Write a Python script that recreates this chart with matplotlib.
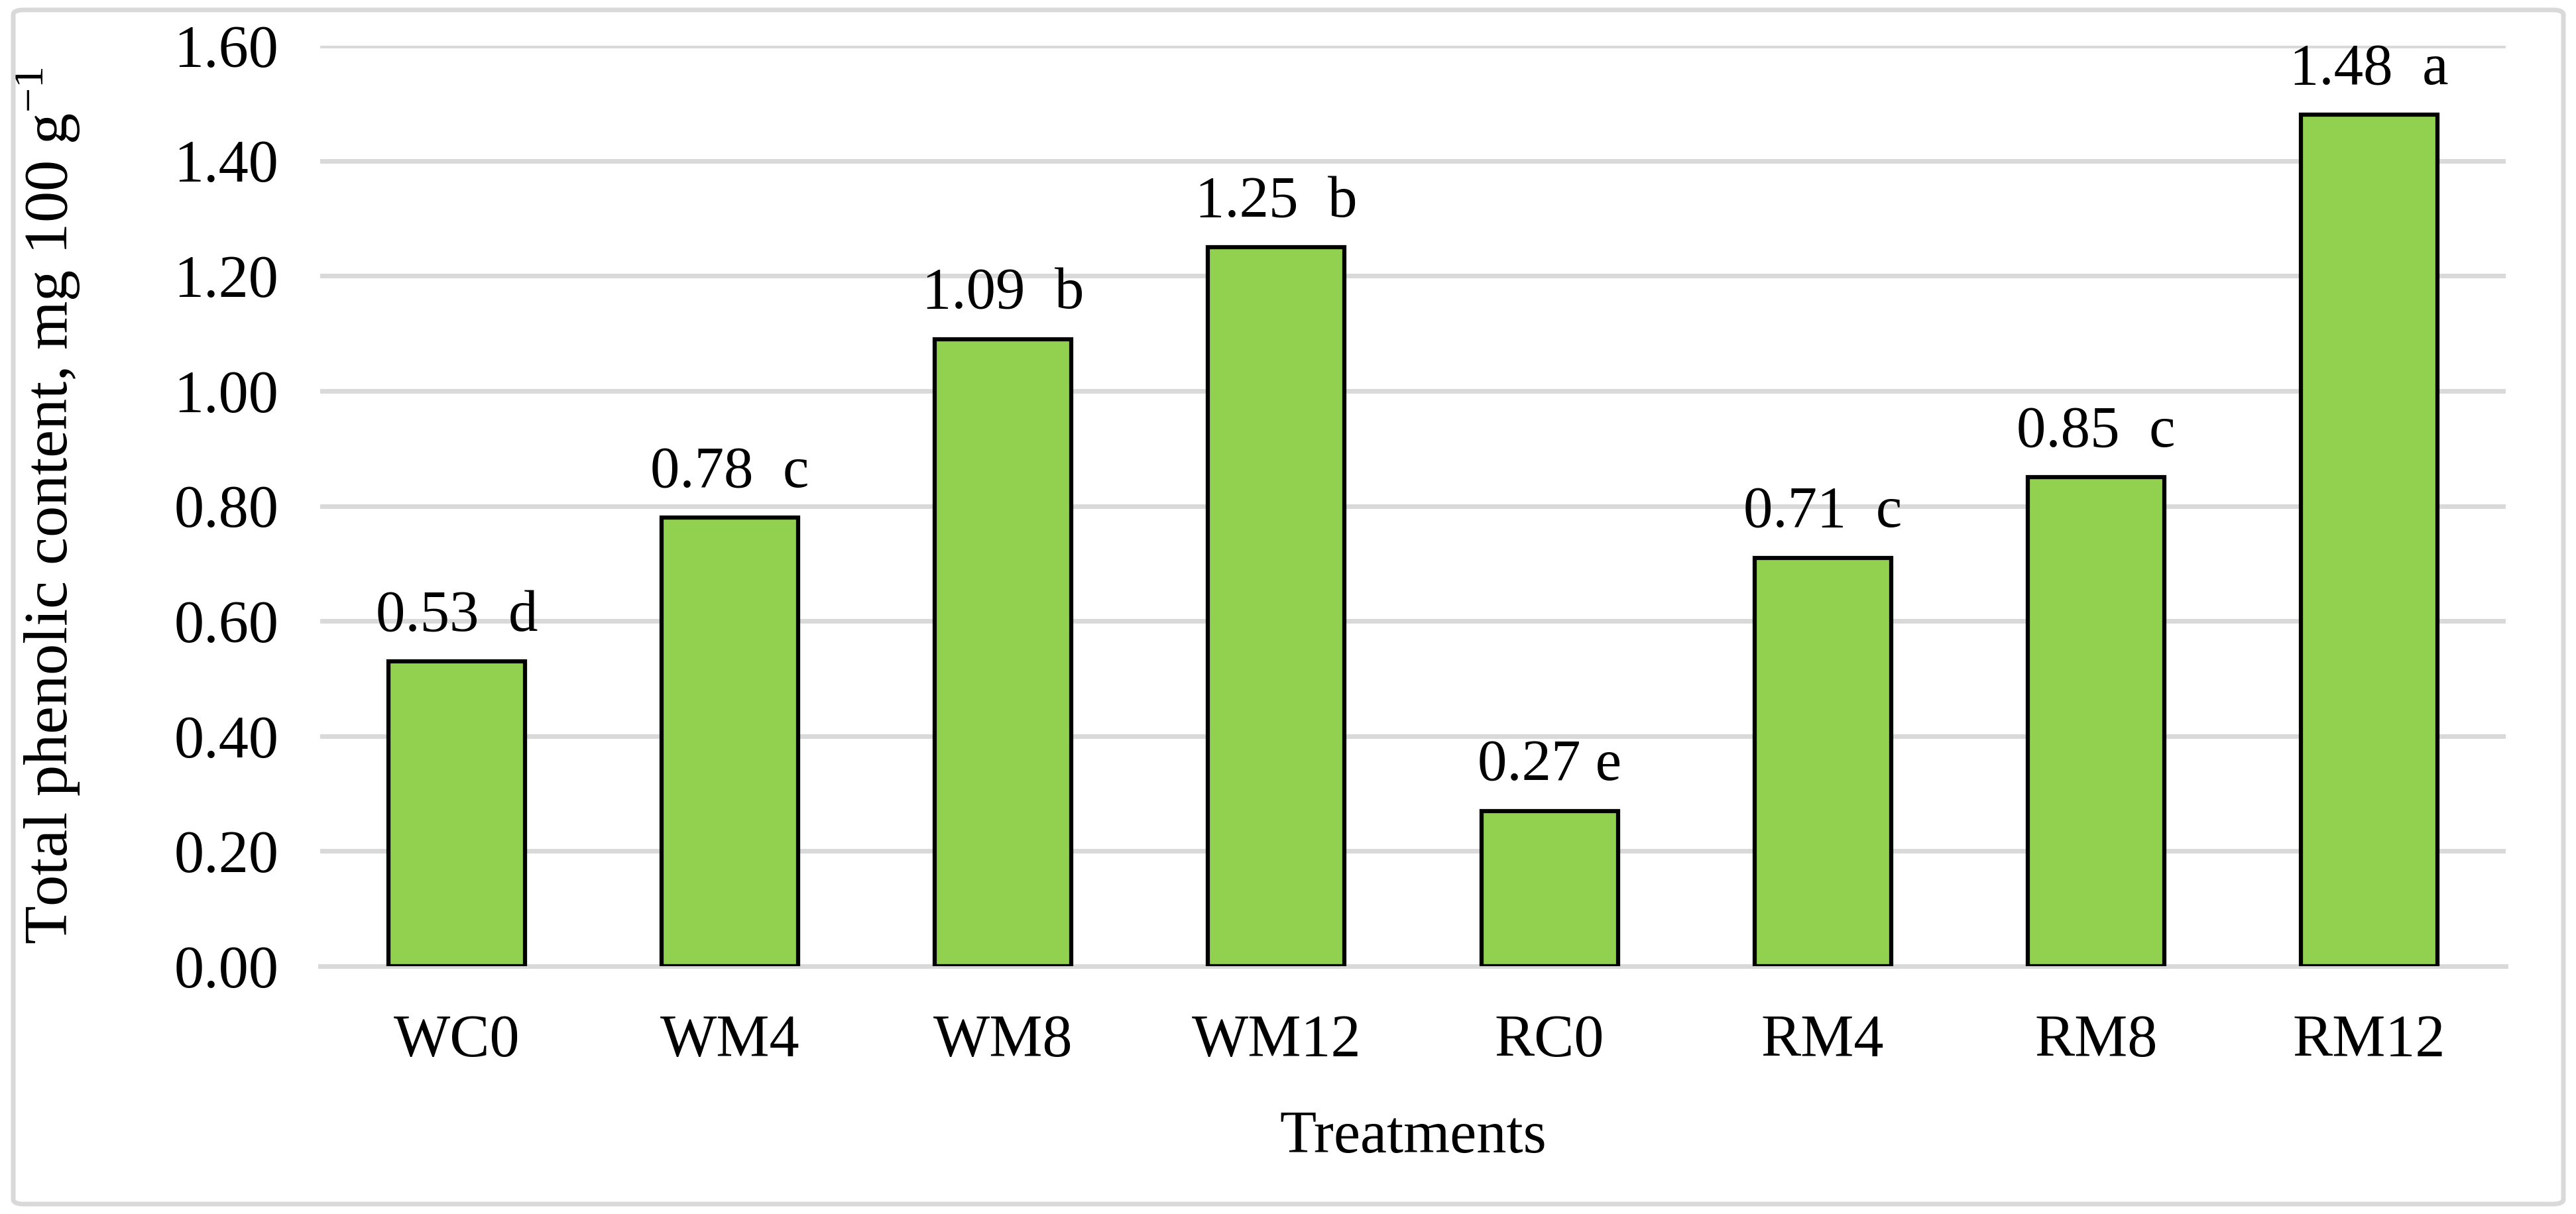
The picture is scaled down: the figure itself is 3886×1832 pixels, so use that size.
import numpy as np
import matplotlib
matplotlib.use('Agg')
import matplotlib.pyplot as plt
from matplotlib.patches import FancyBboxPatch

plt.rcParams['font.family'] = ['Liberation Serif', 'DejaVu Serif']
plt.rcParams['mathtext.fontset'] = 'custom'
plt.rcParams['mathtext.rm'] = 'Liberation Serif'

treatments = ['WC0', 'WM4', 'WM8', 'WM12', 'RC0', 'RM4', 'RM8', 'RM12']
phenolic = [0.53, 0.78, 1.09, 1.25, 0.27, 0.71, 0.85, 1.48]
letters = ['d', 'c', 'b', 'b', 'e', 'c', 'c', 'a']
label_text = ['0.53  d', '0.78  c', '1.09  b', '1.25  b', '0.27 e', '0.71  c', '0.85  c', '1.48  a']

grid_col = '#D9D9D9'
bar_col = '#92D050'

fig = plt.figure(figsize=(38.87, 18.32), dpi=100)
ax = fig.add_axes([483 / 3887, 1 - 1458 / 1832, (3780 - 483) / 3887, (1458 - 69) / 1832])

x = np.arange(len(treatments))
ax.bar(x, phenolic, width=0.5, color=bar_col, edgecolor='black', linewidth=4.5, zorder=3)

for i, (v, t) in enumerate(zip(phenolic, label_text)):
    ax.annotate(t, (i, v), xytext=(0, 20), textcoords='offset points',
                ha='center', va='bottom', fontsize=64)

ax.set_xlim(-0.5, 7.5)
ax.set_ylim(0, 1.6)
ax.set_yticks(np.arange(0, 1.61, 0.2))
ax.set_yticklabels(['%.2f' % t for t in np.arange(0, 1.61, 0.2)])
ax.set_xticks(x)
ax.set_xticklabels(treatments)
ax.tick_params(axis='both', length=0, labelsize=65)
ax.tick_params(axis='x', pad=52)
ax.tick_params(axis='y', pad=45)
ax.yaxis.grid(True, color=grid_col, linewidth=5, zorder=0)
ax.set_axisbelow(True)
for s in ['top', 'right', 'left']:
    ax.spines[s].set_visible(False)
ax.spines['bottom'].set_color(grid_col)
ax.spines['bottom'].set_linewidth(5)

ax.set_xlabel('Treatments', fontsize=65, labelpad=45)
ax.set_ylabel('Total phenolic content, mg 100 g$^{\\mathregular{-1}}$', fontsize=68, labelpad=100)

border = FancyBboxPatch((20 / 3887, 15 / 1832), 1 - 40 / 3887, 1 - 30 / 1832,
                        boxstyle='round,pad=0,rounding_size=0.004', transform=fig.transFigure,
                        facecolor='none', edgecolor=grid_col, linewidth=5)
fig.patches.append(border)

fig.savefig('out.png', dpi=100, facecolor='white')
